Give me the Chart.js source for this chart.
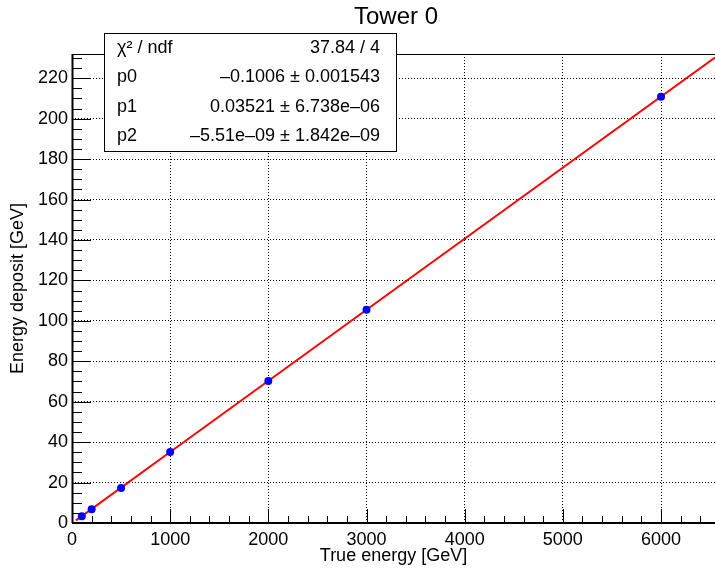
<!DOCTYPE html>
<html>
<head>
<meta charset="utf-8">
<script src="https://cdn.jsdelivr.net/npm/chart.js@4/dist/chart.umd.min.js"></script>
<style>
  html, body { margin: 0; padding: 0; background: #fff; }
  #wrap { width: 715px; height: 568px; }
</style>
</head>
<body>
<div id="wrap"><canvas id="myChart" width="715" height="568"></canvas></div>
<script>
// measured points
var trueEnergy = [100, 200, 500, 1000, 2000, 3000, 6000];
var energyDeposit = [3.3, 6.8, 17.3, 35.1, 70.3, 105.5, 210.9];

// fit curve
var fitEnergy = [40, 1000, 3000, 6550];
var fitDeposit = [1.3, 35.1, 105.5, 230.3];

// axis ticks
var xTicks = [0, 1000, 2000, 3000, 4000, 5000, 6000];
var yTicks = [0, 20, 40, 60, 80, 100, 120, 140, 160, 180, 200, 220];

// stat box text
var statNames = ['\u03c7\u00b2 / ndf', 'p0', 'p1', 'p2'];
var statValues = ['37.84 / 4', '\u20130.1006 \u00b1 0.001543', '0.03521 \u00b1 6.738e\u201306', '\u20135.51e\u201309 \u00b1 1.842e\u201309'];

var chartTitle = 'Tower 0';
var xTitle = 'True energy [GeV]';
var yTitle = 'Energy deposit [GeV]';

var FONT = 'Liberation Sans, Arial, Helvetica, sans-serif';

function toXY(xs, ys) {
	var out = [];
	for (var i in xs) {
		out.push({x: xs[i], y: ys[i]});
	}
	return out;
}

function fixedTicks(list) {
	return function(scale) {
		scale.ticks = list.map(function(v) { return {value: v}; });
	};
}

// ROOT style frame, inward ticks, title and stats box
var rootStyle = {
	id: 'rootStyle',
	afterDraw: function(chart) {
		var ctx = chart.ctx;
		var a = chart.chartArea;
		var xs = chart.scales.x, ys = chart.scales.y;
		ctx.save();
		ctx.strokeStyle = '#000';
		ctx.lineWidth = 1;
		ctx.beginPath();
		ctx.moveTo(a.left, a.top + 0.5);
		ctx.lineTo(a.right, a.top + 0.5);
		ctx.stroke();
		ctx.lineWidth = 2;
		ctx.beginPath();
		ctx.moveTo(a.left, a.bottom);
		ctx.lineTo(a.right, a.bottom);
		ctx.moveTo(a.left + 0.5, a.top);
		ctx.lineTo(a.left + 0.5, a.bottom);
		ctx.stroke();

		ctx.lineWidth = 1;
		ctx.beginPath();
		var v, p;
		for (v = 0; v <= ys.max; v += 5) {
			p = Math.round(ys.getPixelForValue(v)) + 0.5;
			var len = (v % 20 === 0) ? 19 : 10;
			ctx.moveTo(a.left, p);
			ctx.lineTo(a.left + len, p);
		}
		for (v = 0; v <= xs.max; v += 200) {
			p = Math.round(xs.getPixelForValue(v)) + 0.5;
			var lenx = (v % 1000 === 0) ? 14 : 7;
			ctx.moveTo(p, a.bottom);
			ctx.lineTo(p, a.bottom - lenx);
		}
		ctx.stroke();

		// title
		ctx.fillStyle = '#000';
		ctx.font = '24px ' + FONT;
		ctx.textAlign = 'center';
		ctx.textBaseline = 'middle';
		ctx.fillText(chartTitle, 396, 17);

		// stats box
		var bx = 104.5, by = 33.5, bw = 292, bh = 118;
		ctx.fillStyle = '#fff';
		ctx.fillRect(bx, by, bw, bh);
		ctx.strokeStyle = '#000';
		ctx.lineWidth = 1;
		ctx.strokeRect(bx, by, bw, bh);
		ctx.fillStyle = '#000';
		ctx.font = '18px ' + FONT;
		ctx.textBaseline = 'middle';
		for (var i = 0; i < statNames.length; i++) {
			var ty = 48 + i * 29.5;
			ctx.textAlign = 'left';
			ctx.fillText(statNames[i], 117, ty);
			ctx.textAlign = 'right';
			ctx.fillText(statValues[i], 380, ty);
		}
		ctx.restore();
	}
};

var ctx = document.getElementById('myChart');

var chart = new Chart(ctx, {
	type: 'scatter',
	data: {
		datasets: [
			{
				label: 'points',
				data: toXY(trueEnergy, energyDeposit),
				backgroundColor: '#0000ff',
				borderColor: '#0000ff',
				pointRadius: 4,
				borderWidth: 0,
				order: 0
			},
			{
				label: 'fit',
				data: toXY(fitEnergy, fitDeposit),
				showLine: true,
				borderColor: '#ff0000',
				borderWidth: 2,
				pointRadius: 0,
				fill: false,
				order: 1
			}
		]
	},
	options: {
		responsive: false,
		animation: false,
		layout: { autoPadding: false, padding: { top: 54, left: 0, right: 0, bottom: 0 } },
		plugins: {
			legend: { display: false },
			tooltip: { enabled: false },
			title: { display: false }
		},
		scales: {
			x: {
				type: 'linear',
				min: 0,
				max: 6550,
				afterBuildTicks: fixedTicks(xTicks),
				afterFit: function(s) {
					s.height = 45;
					s.paddingLeft = 0;
					s.paddingRight = 0;
				},
				ticks: {
					autoSkip: false,
					maxRotation: 0,
					padding: 6,
					color: '#000',
					font: { family: FONT, size: 18 },
					callback: function(v) { return String(v); }
				},
				grid: { color: '#000', lineWidth: 1, drawTicks: false },
				border: { display: false, dash: [1, 2] },
				title: {
					display: true,
					text: xTitle,
					color: '#000',
					font: { family: FONT, size: 18 },
					padding: { top: 0, bottom: 1 }
				}
			},
			y: {
				type: 'linear',
				min: 0,
				max: 232,
				afterBuildTicks: fixedTicks(yTicks),
				afterFit: function(s) {
					s.width = 72;
					s.paddingTop = 0;
					s.paddingBottom = 0;
				},
				ticks: {
					autoSkip: false,
					padding: 4,
					color: '#000',
					font: { family: FONT, size: 18 },
					callback: function(v) { return String(v); }
				},
				grid: { color: '#000', lineWidth: 1, drawTicks: false },
				border: { display: false, dash: [1, 2] },
				title: {
					display: true,
					text: yTitle,
					color: '#000',
					font: { family: FONT, size: 18 },
					padding: { top: 7, bottom: 0 }
				}
			}
		}
	},
	plugins: [rootStyle]
});
</script>
</body>
</html>
